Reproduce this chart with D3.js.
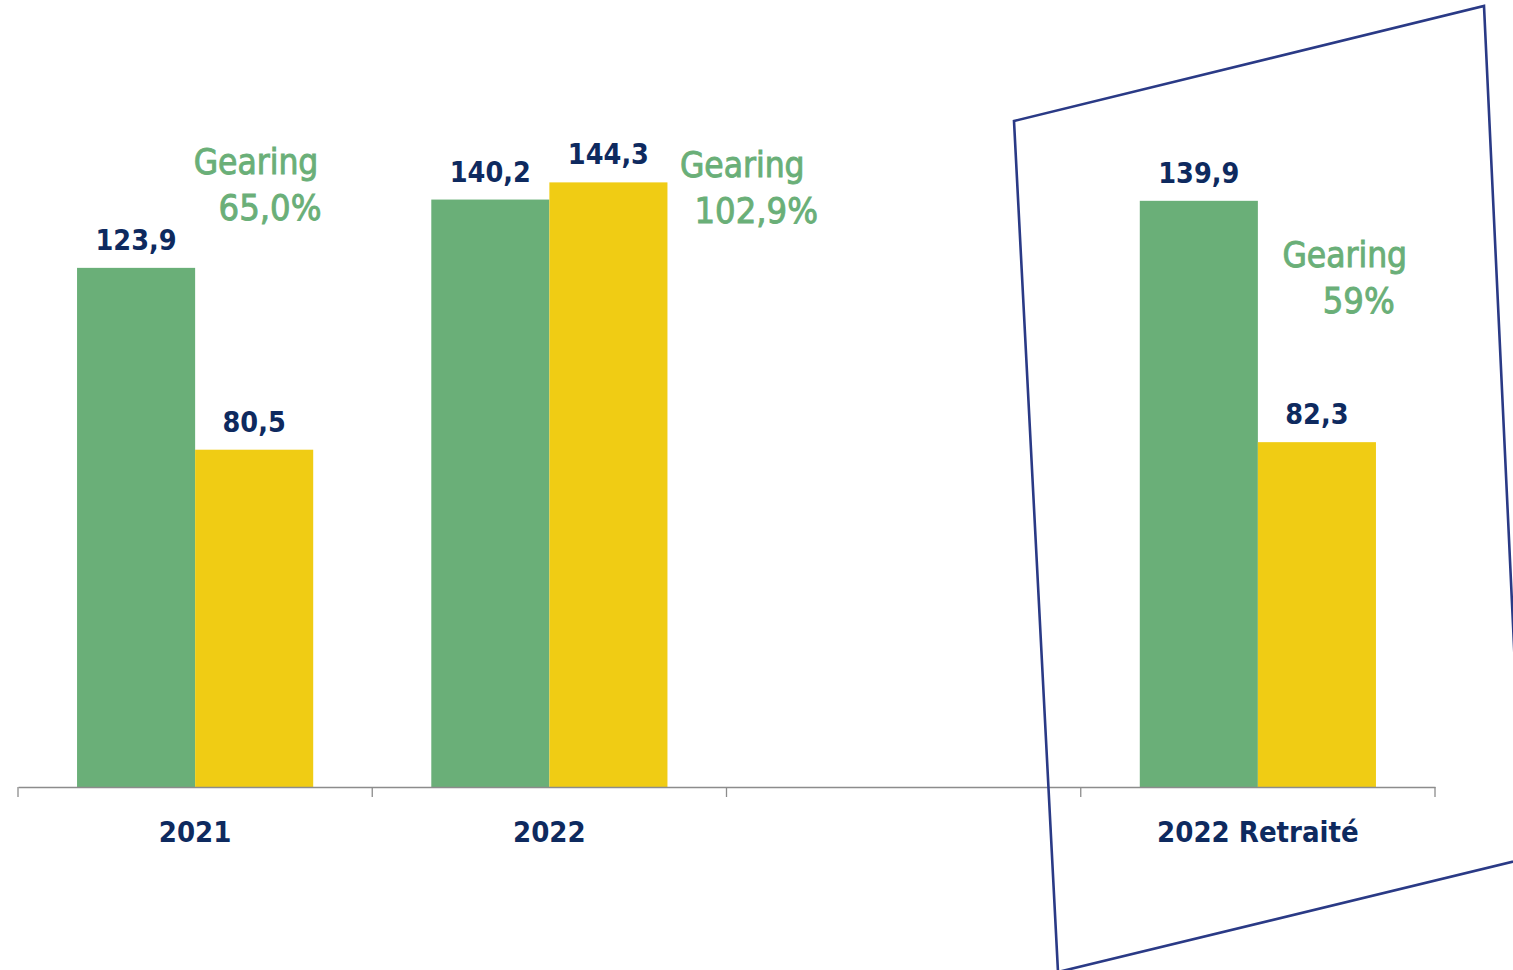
<!DOCTYPE html>
<html>
<head>
<meta charset="utf-8">
<script src="https://cdn.jsdelivr.net/npm/d3@7"></script>
<style>
  html, body { margin: 0; padding: 0; background: #fff; }
  svg { display: block; }
</style>
</head>
<body>
<svg id="chart" width="1513" height="970"></svg>
<script>
// ---- data ----
const categories = ["2021", "2022", "", "2022 Retraité"];
const seriesNames = ["green", "yellow"];
const greenValues = [123.9, 140.2, null, 139.9];
const yellowValues = [80.5, 144.3, null, 82.3];
const valueLabels = [["123,9", "80,5"], ["140,2", "144,3"], [null, null], ["139,9", "82,3"]];
const gearingCategories = ["2021", "2022", "2022 Retraité"];
const gearingValues = ["65,0%", "102,9%", "59%"];

// ---- layout ----
const svg = d3.select("#chart");
const axisY = 787;
const colors = { green: "#6aaf78", yellow: "#f0cc14" };
const navy = "#0e2a5f";
const gearGreen = "#6aaf78";
const fontBold = "'DejaVu Sans Condensed', 'DejaVu Sans', sans-serif";

const x = d3.scaleBand().domain(categories).range([18, 1435]).paddingInner(0).paddingOuter(0);
const xInner = d3.scaleBand().domain(seriesNames).range([0, x.bandwidth()]).paddingInner(0).paddingOuter(0.5);
const y = d3.scaleLinear().domain([0, 150]).range([axisY, axisY - 150 * 4.19]);

const rows = categories.map((c, i) => ({ cat: c, vals: [greenValues[i], yellowValues[i]], labels: valueLabels[i] }));

// bars
const groups = svg.append("g").selectAll("g").data(rows).join("g")
  .attr("transform", d => `translate(${x(d.cat)},0)`);

const items = d => d.vals.map((v, j) => ({ key: seriesNames[j], v, label: d.labels[j] })).filter(e => e.v != null);

groups.selectAll("rect").data(items).join("rect")
  .attr("x", e => xInner(e.key))
  .attr("width", xInner.bandwidth())
  .attr("y", e => y(e.v))
  .attr("height", e => y(0) - y(e.v))
  .attr("fill", e => colors[e.key]);

groups.selectAll("text.val").data(items).join("text")
  .attr("class", "val")
  .attr("x", e => xInner(e.key) + xInner.bandwidth() / 2)
  .attr("y", e => y(e.v) - 18)
  .attr("text-anchor", "middle")
  .attr("font-family", fontBold)
  .attr("font-weight", "bold")
  .attr("font-size", 28.5)
  .attr("fill", navy)
  .text(e => e.label);

// x axis
const axis = d3.axisBottom(x).tickSize(0).tickSizeOuter(0).tickFormat(() => "");
const ax = svg.append("g").attr("transform", `translate(0,${axisY})`).call(axis);
ax.select(".domain").attr("stroke", "#8c8c8c").attr("stroke-width", 1.3);
ax.selectAll(".tick").remove();
const boundaries = categories.map(c => x(c)).concat([x.range()[1]]);
ax.selectAll("line.b").data(boundaries).join("line")
  .attr("class", "b")
  .attr("x1", d => d).attr("x2", d => d)
  .attr("y1", 0).attr("y2", 10)
  .attr("stroke", "#8c8c8c").attr("stroke-width", 1.3);
ax.selectAll("text.cat").data(categories).join("text")
  .attr("class", "cat")
  .attr("x", d => x(d) + x.bandwidth() / 2)
  .attr("y", 842 - axisY)
  .attr("text-anchor", "middle")
  .attr("font-family", fontBold)
  .attr("font-weight", "bold")
  .attr("font-size", 29)
  .attr("fill", navy)
  .text(d => d);

// gearing annotations
const gearOffsets = [
  { dx: 238, y: 174 },
  { dx: 370, y: 177 },
  { dx: 264, y: 267 }
];
const gear = svg.append("g").selectAll("g").data(gearingCategories).join("g")
  .attr("transform", (c, i) => `translate(${x(c) + gearOffsets[i].dx},${gearOffsets[i].y})`);
gear.append("text")
  .attr("text-anchor", "middle")
  .attr("font-family", fontBold)
  .attr("font-size", 35)
  .attr("fill", gearGreen)
  .attr("stroke", gearGreen)
  .attr("stroke-width", 0.9)
  .text("Gearing");
gear.append("text")
  .attr("x", 14)
  .attr("y", 46)
  .attr("text-anchor", "middle")
  .attr("font-family", fontBold)
  .attr("font-size", 36)
  .attr("fill", gearGreen)
  .attr("stroke", gearGreen)
  .attr("stroke-width", 0.9)
  .text((c, i) => gearingValues[i]);

// highlight frame around "2022 Retraité"
const frame = [[1014, 121], [1484, 6], [1524, 859], [1058, 972]];
svg.append("path")
  .attr("d", d3.line()(frame) + "Z")
  .attr("fill", "none")
  .attr("stroke", "#2a3a86")
  .attr("stroke-width", 2.6);
</script>
</body>
</html>
